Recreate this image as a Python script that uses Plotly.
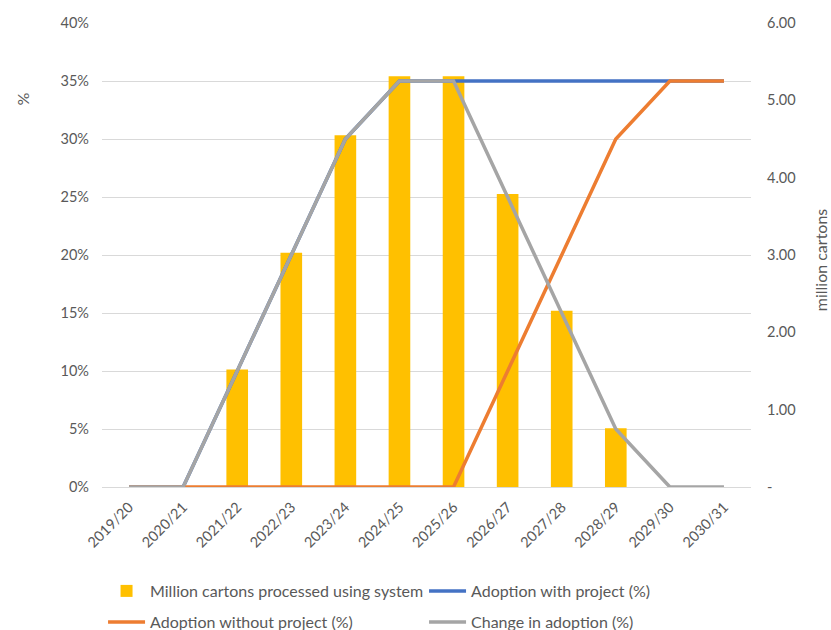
import plotly.graph_objects as go

# Marketing years
seasons = ["2019/20", "2020/21", "2021/22", "2022/23", "2023/24", "2024/25",
           "2025/26", "2026/27", "2027/28", "2028/29", "2029/30", "2030/31"]

# Million cartons processed using the system (right axis)
cartons = [0, 0, 1.52, 3.03, 4.55, 5.31, 5.31, 3.79, 2.28, 0.76, 0, 0]

# Adoption shares (left axis)
adoption_with = [0, 0, 0.10, 0.20, 0.30, 0.35, 0.35, 0.35, 0.35, 0.35, 0.35, 0.35]
adoption_without = [0, 0, 0, 0, 0, 0, 0, 0.10, 0.20, 0.30, 0.35, 0.35]
adoption_change = [0, 0, 0.10, 0.20, 0.30, 0.35, 0.35, 0.25, 0.15, 0.05, 0, 0]

carton_ticks = [0, 1, 2, 3, 4, 5, 6]
carton_ticktext = ["-", "1.00", "2.00", "3.00", "4.00", "5.00", "6.00"]

FONT = "Lato"
TXT = "#595959"
GRID = "#d9d9d9"
TICK_SIZE = 14.5
LABEL_SIZE = 16

fig = go.Figure()

fig.add_trace(go.Bar(
    x=seasons, y=cartons, name="Million cartons processed using system",
    marker=dict(color="#FFC000", line=dict(width=0)), width=0.4,
    yaxis="y", legend="legend",
))
fig.add_trace(go.Scatter(
    x=seasons, y=adoption_with, name="Adoption with project (%)",
    mode="lines", line=dict(color="#4472C4", width=3.5),
    yaxis="y2", legend="legend",
))
fig.add_trace(go.Scatter(
    x=seasons, y=adoption_without, name="Adoption without project (%)",
    mode="lines", line=dict(color="#ED7D31", width=3.5),
    yaxis="y2", legend="legend2",
))
fig.add_trace(go.Scatter(
    x=seasons, y=adoption_change, name="Change in adoption (%)",
    mode="lines", line=dict(color="#A5A5A5", width=3.5),
    yaxis="y2", legend="legend2",
))

legend_common = dict(
    orientation="h", xref="container", yref="container",
    xanchor="left", yanchor="middle",
    font=dict(family=FONT, size=LABEL_SIZE, color=TXT),
    bgcolor="rgba(0,0,0,0)", entrywidth=269, itemwidth=37,
    traceorder="normal",
)

fig.update_layout(
    width=831, height=630,
    margin=dict(l=102, r=80, t=23, b=143, autoexpand=False),
    paper_bgcolor="white", plot_bgcolor="white",
    font=dict(family=FONT, size=TICK_SIZE, color=TXT),
    showlegend=True, barmode="overlay",
    xaxis=dict(
        type="category", tickangle=-45, showgrid=False,
        showline=True, linecolor=GRID, linewidth=1,
        ticks="", ticklabelstandoff=5,
        tickfont=dict(family=FONT, size=TICK_SIZE, color=TXT),
        range=[-0.5, 11.5],
    ),
    yaxis=dict(
        side="right", range=[0, 6], tickvals=carton_ticks,
        ticktext=carton_ticktext, showgrid=False, zeroline=False,
        showline=False, ticks="", ticklabelstandoff=15,
        tickfont=dict(family=FONT, size=TICK_SIZE, color=TXT),
    ),
    yaxis2=dict(
        side="left", overlaying="y", range=[0, 0.40], dtick=0.05,
        tickformat=".0%", showgrid=True, gridcolor=GRID, gridwidth=1,
        zeroline=False, showline=False, ticks="", ticklabelstandoff=12,
        tickfont=dict(family=FONT, size=TICK_SIZE, color=TXT),
    ),
    legend=dict(legend_common, x=0.124, y=1 - 591 / 630),
    legend2=dict(legend_common, x=0.124, y=1 - 622 / 630),
    annotations=[
        dict(text="%", xref="paper", yref="paper", x=-0.14, y=0.855,
             showarrow=False, textangle=-90,
             font=dict(family=FONT, size=LABEL_SIZE, color=TXT)),
        dict(text="million cartons", xref="paper", yref="paper", x=1.125, y=0.49,
             showarrow=False, textangle=-90,
             font=dict(family=FONT, size=LABEL_SIZE, color=TXT)),
    ],
)

fig.write_html("out.html")
